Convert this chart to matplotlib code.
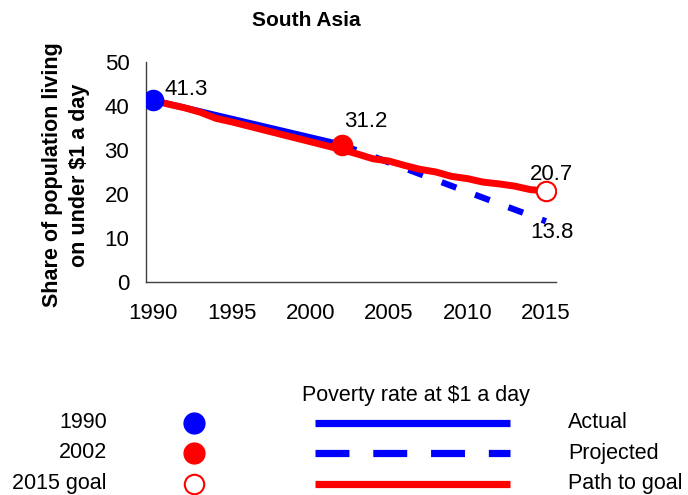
import matplotlib
matplotlib.use("Agg")
import matplotlib.pyplot as plt
from matplotlib.lines import Line2D

plt.rcParams['font.family'] = ['Liberation Sans', 'DejaVu Sans']

# Data
actual_years = [1990, 2002]
actual_vals = [41.3, 31.2]
proj_years = [2002, 2015]
proj_vals = [31.2, 13.8]
path_years = list(range(1990, 2016))
path_vals = [41.3, 40.4, 39.6, 38.6, 37.2, 36.4, 35.5, 34.6, 33.7, 32.8,
             31.9, 31.0, 30.1, 29.1, 28.0, 27.5, 26.5, 25.6, 25.0, 24.0,
             23.5, 22.7, 22.3, 21.8, 21.0, 20.7]
goal_year, goal_val = 2015, 20.7
xticks = [1990, 1995, 2000, 2005, 2010, 2015]
yticks = [0, 10, 20, 30, 40, 50]
legend_rows = ["1990", "2002", "2015 goal"]
legend_lines = ["Actual", "Projected", "Path to goal"]

BLUE = "#0000ff"
RED = "#ff0000"
FS = 16
LFS = 15.5

W, H = 688, 495
fig = plt.figure(figsize=(W / 100, H / 100), dpi=100)
ax = fig.add_axes([146 / W, 1 - 282 / H, 410 / W, 220 / H])

ax.plot(actual_years, actual_vals, color=BLUE, lw=4.5, solid_capstyle='butt', zorder=2)
ax.plot(proj_years, proj_vals, color=BLUE, lw=4.5, dashes=(2.5, 3.2),
        dash_capstyle='butt', zorder=2)
ax.plot(path_years, path_vals, color=RED, lw=5, solid_capstyle='butt',
        solid_joinstyle='round', zorder=3)
ax.plot([actual_years[0]], [actual_vals[0]], 'o', color=BLUE, ms=14.5, zorder=4)
ax.plot([actual_years[1]], [actual_vals[1]], 'o', color=RED, ms=14.5, zorder=4)
ax.plot([goal_year], [goal_val], 'o', mfc='white', mec=RED, mew=1.5, ms=14, zorder=4)

ax.annotate(f"{actual_vals[0]}", (actual_years[0], actual_vals[0]), xytext=(8, 8),
            textcoords='offset points', fontsize=FS, ha='left', va='center')
ax.annotate(f"{actual_vals[1]}", (actual_years[1], actual_vals[1]), xytext=(2, 17),
            textcoords='offset points', fontsize=FS, ha='left', va='center')
ax.annotate(f"{goal_val}", (goal_year, goal_val), xytext=(4, 12),
            textcoords='offset points', fontsize=FS, ha='center', va='center')
ax.annotate(f"{proj_vals[1]}", (proj_years[1], proj_vals[1]), xytext=(4, -8),
            textcoords='offset points', fontsize=FS, ha='center', va='center')

ax.set_xlim(1989.555, 2015.64)
ax.set_ylim(0, 50)
ax.set_xticks(xticks)
ax.set_yticks(yticks)
ax.tick_params(length=0, labelsize=FS)
ax.tick_params(axis='y', pad=12)
ax.tick_params(axis='x', pad=15)
for s in ['top', 'right']:
    ax.spines[s].set_visible(False)
for s in ['left', 'bottom']:
    ax.spines[s].set_color('#404040')
    ax.spines[s].set_linewidth(1.0)

fig.text(306 / W, 1 - 20 / H, "South Asia", fontsize=15, fontweight='bold',
         ha='center', va='center')
fig.text(66 / W, 1 - 175 / H, "Share of population living\non under $1 a day",
         fontsize=15.5, fontweight='bold', rotation=90, ha='center', va='center',
         linespacing=1.35)

# Custom legend
fig.text(416 / W, 1 - 395 / H, "Poverty rate at $1 a day", fontsize=LFS,
         ha='center', va='center')
row_y = [423, 453, 484]
for i, lab in enumerate(legend_rows):
    fig.text(107 / W, 1 - row_y[i] / H, lab, fontsize=LFS, ha='right', va='center')
    fig.text(568 / W, 1 - row_y[i] / H, legend_lines[i], fontsize=LFS,
             ha='left', va='center')

dot_styles = [dict(color=BLUE), dict(color=RED), dict(mfc='white', mec=RED, mew=1.5)]
for i, st in enumerate(dot_styles):
    yy = 1 - row_y[i] / H
    fig.add_artist(Line2D([194 / W], [yy], marker='o', ms=15 if i < 2 else 14,
                          ls='none', transform=fig.transFigure, **st))

line_styles = [dict(color=BLUE), dict(color=BLUE, dashes=(4.7, 3.3)), dict(color=RED)]
for i, st in enumerate(line_styles):
    yy = 1 - row_y[i] / H
    fig.add_artist(Line2D([315 / W, 510 / W], [yy, yy], lw=5.2, solid_capstyle='butt',
                          dash_capstyle='butt', transform=fig.transFigure, **st))

fig.savefig("out.png", dpi=100)
